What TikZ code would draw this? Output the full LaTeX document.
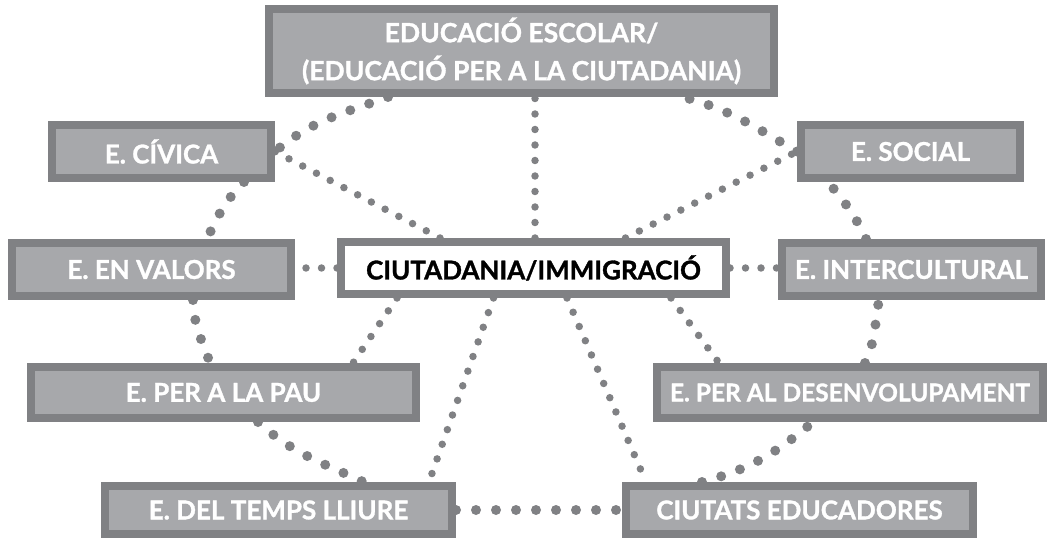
\documentclass[tikz,border=0pt]{standalone}
\usepackage{fontspec}
\setmainfont{Lato}[BoldFeatures={FakeBold=1.2}]
\usetikzlibrary{backgrounds}
\definecolor{framegray}{RGB}{128,129,132}
\definecolor{boxgray}{RGB}{167,168,171}

\begin{document}
\begin{tikzpicture}[x=1pt, y=-1pt,
    theme/.style={draw=framegray, fill=boxgray, line width=8pt, text=white, inner sep=0pt, align=center,
      font=\fontsize{26}{37}\selectfont\bfseries},
    hub/.style={theme, fill=white, text=black, font=\fontsize{26}{30}\selectfont\bfseries},
    ring/.style={draw=framegray, line width=10pt, line cap=round, dash pattern=on 0pt off 20pt},
    spoke/.style={draw=framegray, line width=7.5pt, line cap=round, dash pattern=on 0pt off 15.5pt}]
    \useasboundingbox (0, 0) rectangle (1050, 540);

    \node[theme, minimum width=505pt, minimum height=84pt, font=\fontsize{26.5}{38}\selectfont\bfseries] at (521.5, 51)(esc){EDUCACIÓ ESCOLAR/\\(EDUCACIÓ PER A LA CIUTADANIA)};
    \node[theme, minimum width=219pt, minimum height=53pt] at (161.5, 151.5)(civ){E. CÍVICA};
    \node[theme, minimum width=219pt, minimum height=53pt] at (910.5, 151.5)(soc){E. SOCIAL};
    \node[theme, minimum width=279pt, minimum height=53pt] at (151.5, 269.5)(val){E. EN VALORS};
    \node[hub, minimum width=385pt, minimum height=52pt] at (533.5, 268)(ciu){CIUTADANIA/IMMIGRACIÓ};
    \node[theme, minimum width=259pt, minimum height=53pt] at (911.5, 269.5)(int){E. INTERCULTURAL};
    \node[theme, minimum width=385pt, minimum height=51pt] at (223.5, 392.5)(pau){E. PER A LA PAU};
    \node[theme, minimum width=386pt, minimum height=51pt, font=\fontsize{24.5}{30}\selectfont\bfseries] at (850, 392.5)(des){E. PER AL DESENVOLUPAMENT};
    \node[theme, minimum width=347pt, minimum height=48pt] at (278.5, 510)(lle){E. DEL TEMPS LLIURE};
    \node[theme, minimum width=347pt, minimum height=48pt] at (799.5, 510)(edu){CIUTATS EDUCADORES};

    \begin{scope}[on background layer]
    % outer ring
    \path[ring]
        ([xshift=-133.5pt]esc.south)edge[out=200, in=40](civ.east)
        ([xshift=82.5pt]civ.south)edge[out=225, in=65]([xshift=55.5pt]val.north)
        ([xshift=41.5pt]val.south)edge[out=272, in=110]([xshift=-13.5pt]pau.north)
        ([xshift=34.5pt]pau.south)edge[out=318, in=155]([xshift=85pt]lle.north)
        (lle.east)edge(edu.west)
        ([xshift=-97.5pt]edu.north)edge[out=15, in=220]([xshift=-37pt]des.south)
        ([xshift=15pt]des.north)edge[out=65, in=260]([xshift=-32.5pt]int.south)
        ([xshift=-45.5pt]int.north)edge[out=115, in=310]([xshift=-82.5pt]soc.south)
        (soc.west)edge[out=150, in=345]([xshift=161.5pt]esc.south)
        ;
    % spokes
    \path[spoke]
        ([xshift=1.5pt]ciu.north)edge([xshift=13.5pt]esc.south)
        ([xshift=-93.5pt]ciu.north)edge(civ.east)
        ([xshift=92pt]ciu.north)edge(soc.west)
        (ciu.west)edge(ciu.west -| val.east)
        (ciu.east)edge(ciu.east -| int.west)
        ([xshift=-136.5pt]ciu.south)edge([xshift=129.5pt]pau.north)
        ([xshift=-40pt]ciu.south)edge([xshift=150.5pt]lle.north)
        ([xshift=33.5pt]ciu.south)edge([xshift=-153.5pt]edu.north)
        ([xshift=137.5pt]ciu.south)edge([xshift=-131pt]des.north)
        ;
    \end{scope}
\end{tikzpicture}
\end{document}
